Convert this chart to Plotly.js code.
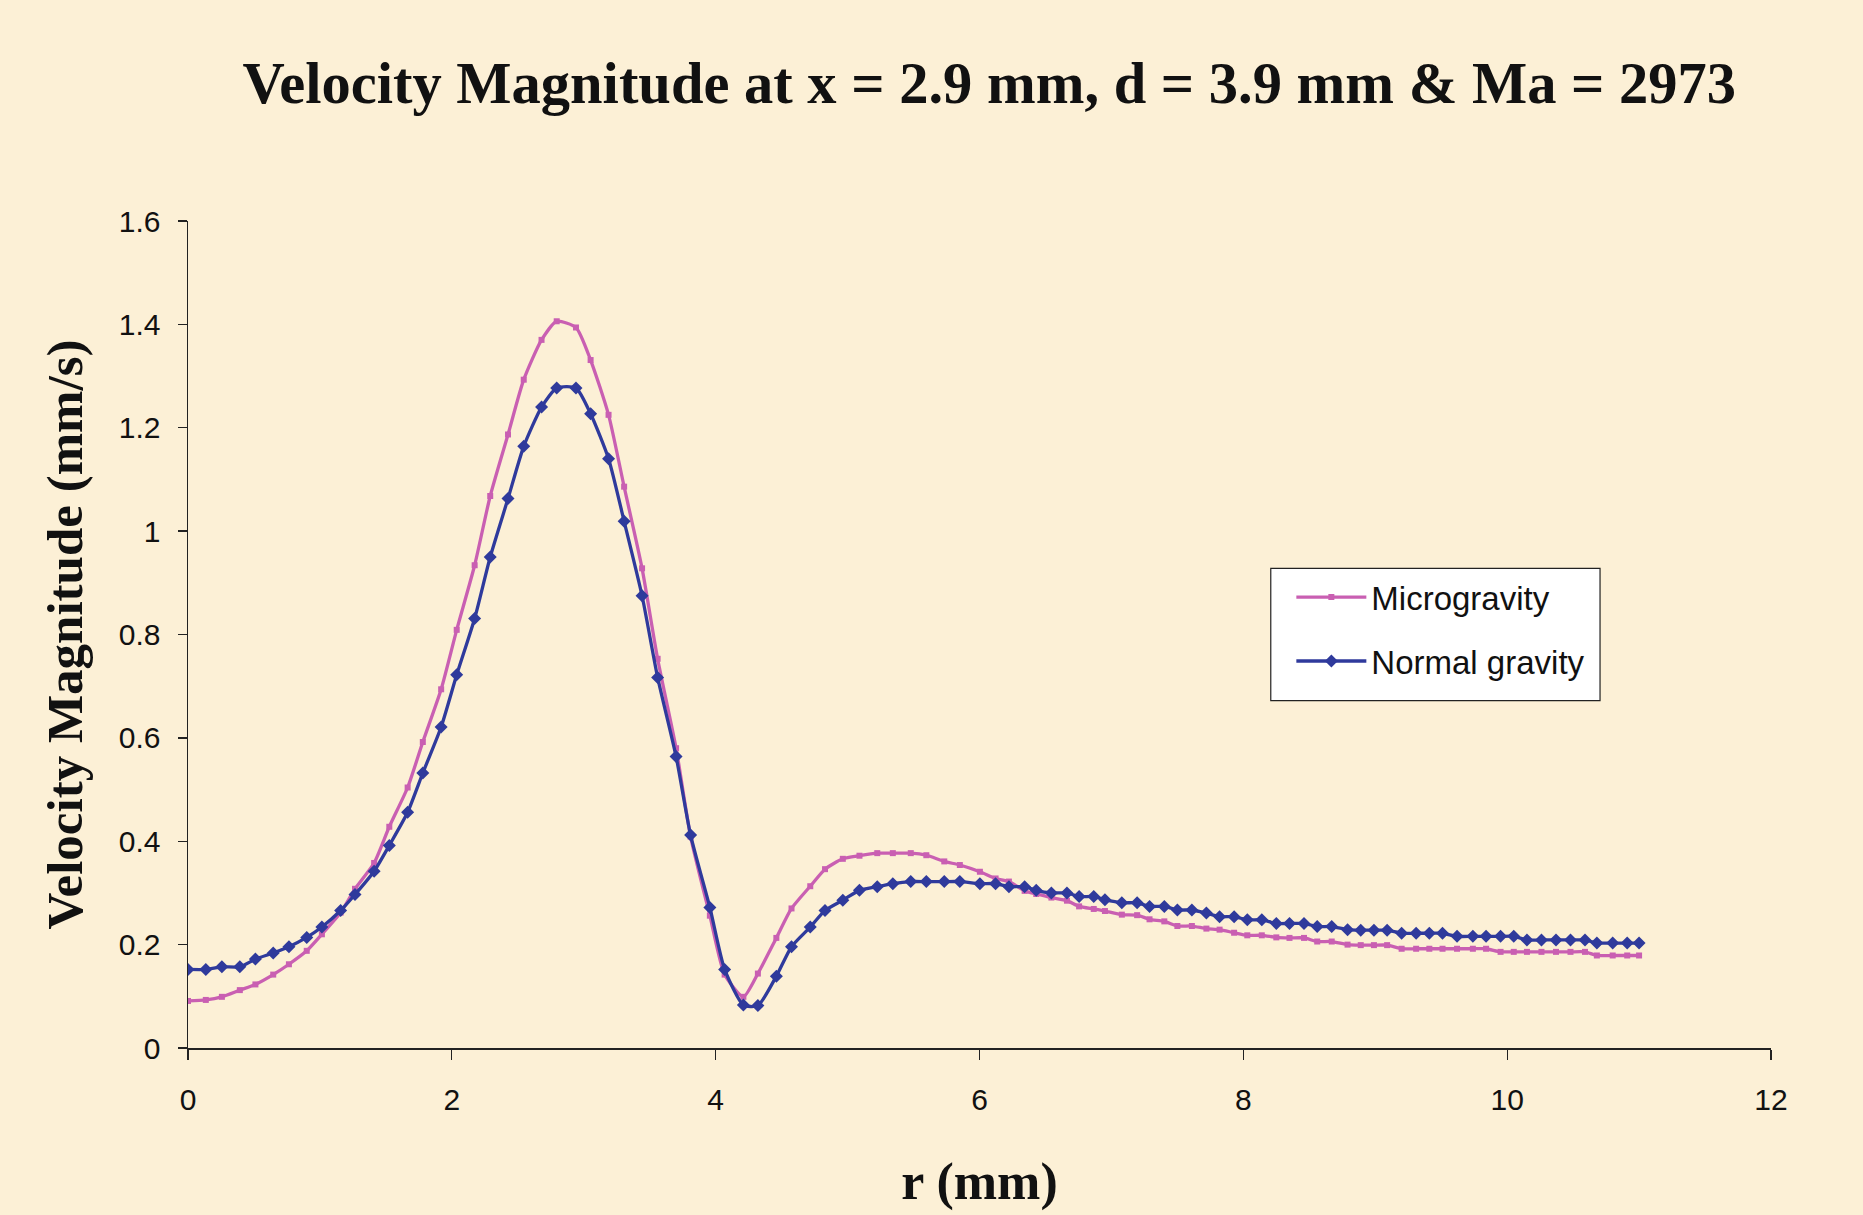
<!DOCTYPE html>
<html>
<head>
<meta charset="utf-8">
<script src="https://cdn.plot.ly/plotly-3.0.1.min.js"></script>
<style>
  html, body { margin: 0; padding: 0; background: #FCF0D6; }
  #chart { width: 1863px; height: 1215px; }
</style>
</head>
<body>
<div id="chart"></div>
<script>
// Radial position r (mm)
const r = [0, 0.135, 0.257, 0.393, 0.511, 0.646, 0.765, 0.900, 1.015, 1.157,
  1.266, 1.411, 1.526, 1.665, 1.780, 1.919, 2.037, 2.173, 2.291, 2.426,
  2.545, 2.680, 2.795, 2.941, 3.052, 3.188, 3.306, 3.442, 3.56, 3.70,
  3.81, 3.956, 4.068, 4.21, 4.32, 4.46, 4.575, 4.717, 4.829, 4.964,
  5.09, 5.225, 5.343, 5.479, 5.597, 5.733, 5.851, 6.003, 6.122, 6.223,
  6.342, 6.43, 6.545, 6.663, 6.755, 6.866, 6.951, 7.079, 7.195, 7.289,
  7.401, 7.50, 7.61, 7.72, 7.82, 7.93, 8.03, 8.14, 8.25, 8.35,
  8.46, 8.56, 8.67, 8.79, 8.89, 8.99, 9.09, 9.20, 9.31, 9.41,
  9.51, 9.62, 9.74, 9.84, 9.95, 10.05, 10.15, 10.26, 10.37, 10.48,
  10.59, 10.68, 10.80, 10.91, 11.0];

// Velocity magnitude (mm/s), microgravity
const microgravity = [0.091, 0.093, 0.099, 0.112, 0.123, 0.142, 0.162, 0.188, 0.220, 0.262,
  0.308, 0.358, 0.428, 0.504, 0.592, 0.694, 0.809, 0.934, 1.068, 1.187,
  1.293, 1.370, 1.406, 1.394, 1.331, 1.225, 1.086, 0.928, 0.753, 0.580,
  0.409, 0.256, 0.142, 0.099, 0.144, 0.213, 0.270, 0.313, 0.346, 0.366,
  0.372, 0.377, 0.377, 0.377, 0.373, 0.361, 0.354, 0.341, 0.328, 0.322,
  0.304, 0.298, 0.291, 0.285, 0.274, 0.269, 0.265, 0.258, 0.257, 0.249,
  0.245, 0.236, 0.236, 0.231, 0.229, 0.223, 0.218, 0.218, 0.214, 0.213,
  0.213, 0.206, 0.206, 0.200, 0.199, 0.199, 0.199, 0.192, 0.192, 0.192,
  0.192, 0.192, 0.192, 0.192, 0.186, 0.186, 0.186, 0.186, 0.186, 0.186,
  0.186, 0.179, 0.179, 0.179, 0.179];

// Velocity magnitude (mm/s), normal gravity
const normalGravity = [0.152, 0.152, 0.157, 0.157, 0.172, 0.184, 0.196, 0.214, 0.234, 0.266,
  0.297, 0.342, 0.392, 0.456, 0.532, 0.621, 0.722, 0.831, 0.950, 1.063,
  1.164, 1.240, 1.277, 1.277, 1.227, 1.140, 1.019, 0.875, 0.717, 0.564,
  0.412, 0.272, 0.152, 0.083, 0.082, 0.139, 0.196, 0.234, 0.266, 0.286,
  0.305, 0.312, 0.318, 0.322, 0.322, 0.322, 0.322, 0.318, 0.318, 0.312,
  0.312, 0.305, 0.300, 0.300, 0.293, 0.293, 0.287, 0.281, 0.281, 0.274,
  0.274, 0.267, 0.267, 0.261, 0.254, 0.254, 0.248, 0.248, 0.241, 0.241,
  0.241, 0.235, 0.235, 0.229, 0.228, 0.228, 0.228, 0.222, 0.222, 0.222,
  0.222, 0.216, 0.216, 0.216, 0.216, 0.216, 0.209, 0.209, 0.209, 0.209,
  0.209, 0.203, 0.203, 0.203, 0.203];

const seriesNames = ['Microgravity', 'Normal gravity'];
const xTicks = [0, 2, 4, 6, 8, 10, 12];
const yTicks = [0, 0.2, 0.4, 0.6, 0.8, 1, 1.2, 1.4, 1.6];

const pink = '#C95FB2';
const blue = '#2F3A9C';

const traces = [
  {
    x: r, y: microgravity, name: seriesNames[0], type: 'scatter', mode: 'lines+markers',
    line: {color: pink, width: 3.3, shape: 'spline', smoothing: 0.6},
    marker: {symbol: 'square', size: 6, color: pink},
    legendgroup: 'a'
  },
  {
    x: r, y: normalGravity, name: seriesNames[1], type: 'scatter', mode: 'lines+markers',
    line: {color: blue, width: 3.3, shape: 'spline', smoothing: 0.6},
    marker: {symbol: 'diamond', size: 10, color: blue},
    legendgroup: 'b'
  }
];

const layout = {
  width: 1863, height: 1215,
  paper_bgcolor: '#FCF0D6',
  plot_bgcolor: 'rgba(0,0,0,0)',
  margin: {l: 188, r: 92, t: 221, b: 167},
  title: {
    text: 'Velocity Magnitude at x = 2.9 mm, d = 3.9 mm & Ma = 2973',
    font: {family: 'Liberation Serif, Times New Roman, serif', size: 58.5, color: '#111111', weight: 'bold'},
    x: 0.531, xanchor: 'center', y: 0.932, yanchor: 'middle'
  },
  xaxis: {
    range: [0, 12], tickvals: xTicks, ticktext: xTicks.map(String),
    showgrid: false, zeroline: false,
    showline: true, linecolor: '#222', linewidth: 1.5,
    ticks: 'outside', ticklen: 10, tickcolor: '#222', tickwidth: 1.3,
    ticklabelstandoff: 14,
    tickfont: {family: 'Liberation Sans, Arial, sans-serif', size: 30, color: '#111'},
    title: {text: 'r (mm)', standoff: 48,
      font: {family: 'Liberation Serif, Times New Roman, serif', size: 52, color: '#111', weight: 'bold'}}
  },
  yaxis: {
    range: [0, 1.6], tickvals: yTicks, ticktext: yTicks.map(String),
    showgrid: false, zeroline: false,
    showline: true, linecolor: '#222', linewidth: 1.5,
    ticks: 'outside', ticklen: 9, tickcolor: '#222', tickwidth: 1.3,
    ticklabelstandoff: 11,
    tickfont: {family: 'Liberation Sans, Arial, sans-serif', size: 30, color: '#111'},
    title: {text: 'Velocity Magnitude (mm/s)', standoff: 20,
      font: {family: 'Liberation Serif, Times New Roman, serif', size: 51, color: '#111', weight: 'bold'}}
  },
  shapes: [
    {type: 'rect', xref: 'paper', yref: 'paper', x0: 0.684, x1: 0.892, y0: 0.420, y1: 0.580,
     fillcolor: '#FFFFFF', line: {color: '#222', width: 1.2}, layer: 'above'}
  ],
  showlegend: true,
  legend: {
    x: 0.697, y: 0.579, xanchor: 'left', yanchor: 'top',
    bgcolor: 'rgba(0,0,0,0)', borderwidth: 0,
    font: {family: 'Liberation Sans, Arial, sans-serif', size: 33, color: '#111'},
    itemwidth: 70, tracegroupgap: 18, traceorder: 'grouped'
  }
};

Plotly.newPlot('chart', traces, layout, {displayModeBar: false, staticPlot: true});
</script>
</body>
</html>
